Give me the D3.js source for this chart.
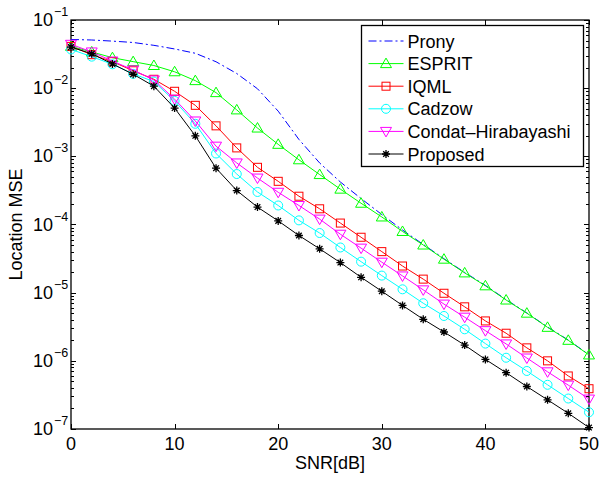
<!DOCTYPE html>
<html>
<head>
<meta charset="utf-8">
<script src="https://cdn.jsdelivr.net/npm/d3@7/dist/d3.min.js"></script>
<style>
  body { margin: 0; background: #fff; }
  text { font-family: "Liberation Sans", Arial, sans-serif; fill: #000; }
</style>
</head>
<body>
<svg id="chart" width="600" height="477"></svg>
<script>
// SNR values (dB)
const snr = d3.range(0, 51, 2);

// MSE per method
const prony = [0.0518, 0.0509, 0.049, 0.0468, 0.0425, 0.0376, 0.0325, 0.0244, 0.0164, 0.0098, 0.0046, 0.00177, 8.0e-4, 4.2e-4, 2.4e-4, 1.4e-4, 8.3e-5, 5.1e-5, 3.15e-5, 1.98e-5, 1.28e-5, 7.9e-6, 5.05e-6, 3.13e-6, 2.02e-6, 1.23e-6];
const esprit = [0.041, 0.034, 0.028, 0.0245, 0.0215, 0.0174, 0.0129, 0.0086, 0.0048, 0.0026, 0.0015, 8.9e-4, 5.4e-4, 3.3e-4, 2.05e-4, 1.29e-4, 7.9e-5, 5.0e-5, 3.1e-5, 1.95e-5, 1.26e-5, 7.8e-6, 5.0e-6, 3.1e-6, 2.0e-6, 1.22e-6];
const iqml = [0.041, 0.031, 0.0245, 0.018, 0.0135, 0.009, 0.0056, 0.0028, 0.00133, 6.9e-4, 4.3e-4, 2.6e-4, 1.7e-4, 1.05e-4, 6.5e-5, 4.0e-5, 2.46e-5, 1.58e-5, 9.8e-6, 6.2e-6, 3.85e-6, 2.54e-6, 1.55e-6, 1.0e-6, 6.0e-7, 3.9e-7];
const cadzow = [0.037, 0.029, 0.0224, 0.0162, 0.0125, 0.0065, 0.003, 0.0011, 5.5e-4, 3.0e-4, 1.9e-4, 1.15e-4, 7.5e-5, 4.6e-5, 2.85e-5, 1.78e-5, 1.12e-5, 7.0e-6, 4.55e-6, 2.9e-6, 1.79e-6, 1.11e-6, 7.1e-7, 4.45e-7, 2.8e-7, 1.76e-7];
const condat = [0.044, 0.034, 0.025, 0.0185, 0.0132, 0.0069, 0.0033, 0.00141, 8.0e-4, 4.8e-4, 2.97e-4, 1.9e-4, 1.2e-4, 7.2e-5, 4.5e-5, 2.8e-5, 1.76e-5, 1.1e-5, 6.8e-6, 4.37e-6, 2.77e-6, 1.77e-6, 1.1e-6, 6.9e-7, 4.4e-7, 2.75e-7];
const proposed = [0.040, 0.032, 0.0227, 0.016, 0.0107, 0.0051, 0.0020, 6.7e-4, 3.15e-4, 1.8e-4, 1.13e-4, 6.9e-5, 4.4e-5, 2.76e-5, 1.68e-5, 1.05e-5, 6.5e-6, 4.07e-6, 2.65e-6, 1.7e-6, 1.05e-6, 6.7e-7, 4.2e-7, 2.68e-7, 1.7e-7, 1.05e-7];

const seriesNames = ["Prony", "ESPRIT", "IQML", "Cadzow", "Condat\u2013Hirabayashi", "Proposed"];
const seriesData = [prony, esprit, iqml, cadzow, condat, proposed];
const seriesColors = ["#0000ff", "#00ff00", "#ff0000", "#00ffff", "#ff00ff", "#000000"];
const seriesMarkers = ["none", "triangleUp", "square", "circle", "triangleDown", "star"];

const xTicks = [0, 10, 20, 30, 40, 50];
const yExponents = [-1, -2, -3, -4, -5, -6, -7];

const margin = {left: 71, top: 20, right: 11, bottom: 48};
const W = 600, H = 477;
const pw = W - margin.left - margin.right;
const ph = H - margin.top - margin.bottom;

const svg = d3.select("#chart");
const g = svg.append("g").attr("transform", `translate(${margin.left},${margin.top})`);

const x = d3.scaleLinear().domain([0, 50]).range([0, pw]);
const y = d3.scaleLog().domain([1e-7, 1e-1]).range([ph, 0]);

// ticks (inward, mirrored like matlab)
let minor = [];
for (let e = -7; e < -1; e++) {
    for (let k = 2; k <= 9; k++) minor.push(k * Math.pow(10, e));
}
const tickG = g.append("g").attr("stroke", "#000").attr("stroke-width", 1);
minor.forEach(v => {
    let yy = Math.round(y(v)) + 0.5;
    tickG.append("line").attr("x1", 0).attr("x2", 3).attr("y1", yy).attr("y2", yy);
    tickG.append("line").attr("x1", pw).attr("x2", pw - 3).attr("y1", yy).attr("y2", yy);
});
yExponents.forEach(e => {
    let yy = Math.round(y(Math.pow(10, e))) + 0.5;
    tickG.append("line").attr("x1", 0).attr("x2", 5).attr("y1", yy).attr("y2", yy);
    tickG.append("line").attr("x1", pw).attr("x2", pw - 5).attr("y1", yy).attr("y2", yy);
});
xTicks.forEach(t => {
    let xx = Math.round(x(t)) + 0.5;
    tickG.append("line").attr("x1", xx).attr("x2", xx).attr("y1", ph).attr("y2", ph - 5);
    tickG.append("line").attr("x1", xx).attr("x2", xx).attr("y1", 0).attr("y2", 5);
});

// box
g.append("rect").attr("x", 0).attr("y", 0).attr("width", pw).attr("height", ph)
    .attr("fill", "none").attr("stroke", "#000").attr("stroke-width", 1.3);

// tick labels
g.selectAll(".xlab").data(xTicks).enter().append("text")
    .attr("x", d => x(d)).attr("y", ph + 21)
    .attr("text-anchor", "middle").attr("font-size", 18)
    .text(d => d);

yExponents.forEach(e => {
    let yy = y(Math.pow(10, e));
    g.append("text").attr("x", -18).attr("y", yy + 6)
        .attr("text-anchor", "end").attr("font-size", 18).text("10");
    g.append("text").attr("x", -17).attr("y", yy - 4)
        .attr("font-size", 12.5).text("\u2212" + (-e));
});

// axis titles
g.append("text").attr("x", pw / 2).attr("y", ph + 40)
    .attr("text-anchor", "middle").attr("font-size", 18).text("SNR[dB]");
g.append("text").attr("transform", `translate(${-49},${ph / 2}) rotate(-90)`)
    .attr("text-anchor", "middle").attr("font-size", 18).text("Location MSE");

// markers
function drawMarker(sel, type, color, cx, cy) {
    if (type === "triangleUp") {
        sel.append("path").attr("d", `M${cx},${cy - 5.5}L${cx + 5.5},${cy + 4}L${cx - 5.5},${cy + 4}Z`)
            .attr("fill", "none").attr("stroke", color);
    } else if (type === "triangleDown") {
        sel.append("path").attr("d", `M${cx},${cy + 5.5}L${cx + 5.5},${cy - 4}L${cx - 5.5},${cy - 4}Z`)
            .attr("fill", "none").attr("stroke", color);
    } else if (type === "square") {
        sel.append("rect").attr("x", cx - 4).attr("y", cy - 4).attr("width", 8).attr("height", 8)
            .attr("fill", "none").attr("stroke", color);
    } else if (type === "circle") {
        sel.append("circle").attr("cx", cx).attr("cy", cy).attr("r", 4.5)
            .attr("fill", "none").attr("stroke", color);
    } else if (type === "star") {
        let r = 4;
        let d = `M${cx - r},${cy}L${cx + r},${cy}M${cx},${cy - r}L${cx},${cy + r}` +
            `M${cx - r * 0.7},${cy - r * 0.7}L${cx + r * 0.7},${cy + r * 0.7}` +
            `M${cx - r * 0.7},${cy + r * 0.7}L${cx + r * 0.7},${cy - r * 0.7}`;
        sel.append("path").attr("d", d).attr("stroke", color).attr("stroke-width", 1.3);
    }
}

const line = d3.line().x(d => x(d[0])).y(d => y(d[1]));

seriesData.forEach((vals, i) => {
    let pts = snr.map((s, j) => [s, vals[j]]);
    let sg = g.append("g");
    sg.append("path").datum(pts).attr("d", line)
        .attr("fill", "none").attr("stroke", seriesColors[i]).attr("stroke-width", 1)
        .attr("stroke-dasharray", i === 0 ? "8,3,2,3" : null);
    if (seriesMarkers[i] !== "none") {
        pts.forEach(p => drawMarker(sg, seriesMarkers[i], seriesColors[i], x(p[0]), y(p[1])));
    }
});

// legend
const lg = svg.append("g").attr("transform", "translate(361.5,25.5)");
lg.append("rect").attr("width", 222).attr("height", 141)
    .attr("fill", "#fff").attr("stroke", "#000").attr("stroke-width", 1.3);
seriesNames.forEach((name, i) => {
    let ly = 15.5 + i * 22.6;
    lg.append("line").attr("x1", 7).attr("x2", 42).attr("y1", ly).attr("y2", ly)
        .attr("stroke", seriesColors[i]).attr("stroke-width", 1)
        .attr("stroke-dasharray", i === 0 ? "8,3,2,3" : null);
    if (seriesMarkers[i] !== "none") drawMarker(lg, seriesMarkers[i], seriesColors[i], 24.5, ly);
    lg.append("text").attr("x", 46).attr("y", ly + 6.5).attr("font-size", 18).text(name);
});
</script>
</body>
</html>
